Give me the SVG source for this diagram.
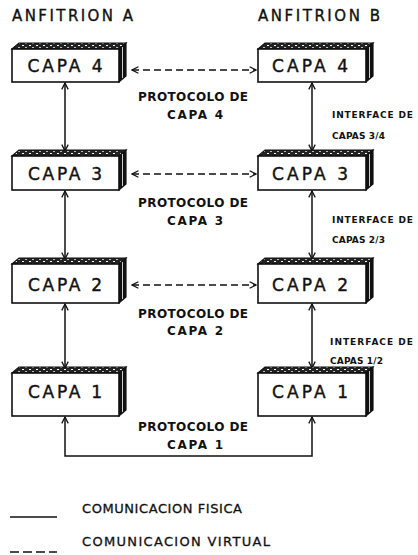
<svg xmlns="http://www.w3.org/2000/svg" width="418" height="555" viewBox="0 0 418 555">
<style>
text{font-family:"DejaVu Sans","Liberation Sans",sans-serif;fill:#111;}
.hdr{font-size:15px;stroke:#111;stroke-width:0.35;}
.lbl{font-size:17px;text-anchor:middle;stroke:#111;stroke-width:0.4;}
.pro{font-size:12px;font-weight:bold;text-anchor:middle;}
.itf{font-size:9px;font-weight:bold;}
.leg{font-size:13px;stroke:#111;stroke-width:0.3;}
.front{fill:#fff;stroke:#111;stroke-width:1.6;}
.top{fill:url(#speck);stroke:#111;stroke-width:1.2;}
.side{fill:#111;stroke:#111;stroke-width:1.2;}
.sl{stroke:#fff;stroke-width:0.8;}
.phys{fill:none;stroke:#111;stroke-width:1.5;}
.virt{fill:none;stroke:#111;stroke-width:1.5;stroke-dasharray:7 4;}
</style>
<defs>
<pattern id="speck" width="7" height="4" patternUnits="userSpaceOnUse">
<rect width="7" height="4" fill="#222"/>
<rect x="1" y="1" width="2" height="1" fill="#fff"/>
<rect x="4" y="3" width="2" height="1" fill="#bbb"/>
</pattern>
<marker id="ah" viewBox="0 0 10 10" refX="9" refY="5" markerWidth="8" markerHeight="8" markerUnits="userSpaceOnUse" orient="auto-start-reverse">
<path d="M1,1 L9,5 L1,9" fill="none" stroke="#111" stroke-width="1.6"/>
</marker>
</defs>

<text class="hdr" x="12" y="21" textLength="121">ANFITRION A</text>
<text class="hdr" x="258" y="21" textLength="122">ANFITRION B</text>

<g id="connectors">
<line class="virt" x1="132" y1="70" x2="256" y2="70" marker-start="url(#ah)" marker-end="url(#ah)"/>
<line class="virt" x1="132" y1="174" x2="256" y2="174" marker-start="url(#ah)" marker-end="url(#ah)"/>
<line class="virt" x1="132" y1="285" x2="256" y2="285" marker-start="url(#ah)" marker-end="url(#ah)"/>
<line class="phys" x1="65" y1="83" x2="65" y2="151" marker-start="url(#ah)" marker-end="url(#ah)"/>
<line class="phys" x1="65" y1="191" x2="65" y2="259" marker-start="url(#ah)" marker-end="url(#ah)"/>
<line class="phys" x1="65" y1="304" x2="65" y2="368" marker-start="url(#ah)" marker-end="url(#ah)"/>
<line class="phys" x1="312" y1="83" x2="312" y2="151" marker-start="url(#ah)" marker-end="url(#ah)"/>
<line class="phys" x1="312" y1="191" x2="312" y2="259" marker-start="url(#ah)" marker-end="url(#ah)"/>
<line class="phys" x1="312" y1="304" x2="312" y2="368" marker-start="url(#ah)" marker-end="url(#ah)"/>
<path class="phys" d="M65,417 V456 H312 V417" marker-start="url(#ah)" marker-end="url(#ah)"/>
</g>

<g id="a4">
<polygon class="top" points="12,49 119,49 126,43 19,43"/>
<polygon class="side" points="119,49 126,43 126,76 119,82"/>
<line class="sl" x1="122.5" y1="47" x2="122.5" y2="78"/>
<rect class="front" x="12" y="49" width="107" height="33"/>
<text class="lbl" x="65" y="72" textLength="75">CAPA 4</text>
</g>
<g id="b4">
<polygon class="top" points="258,49 366,49 373,43 265,43"/>
<polygon class="side" points="366,49 373,43 373,76 366,82"/>
<line class="sl" x1="369.5" y1="47" x2="369.5" y2="78"/>
<rect class="front" x="258" y="49" width="108" height="33"/>
<text class="lbl" x="310" y="72" textLength="76">CAPA 4</text>
</g>
<g id="a3">
<polygon class="top" points="12,156 119,156 126,150 19,150"/>
<polygon class="side" points="119,156 126,150 126,184 119,190"/>
<line class="sl" x1="122.5" y1="154" x2="122.5" y2="186"/>
<rect class="front" x="12" y="156" width="107" height="34"/>
<text class="lbl" x="65" y="180" textLength="74">CAPA 3</text>
</g>
<g id="b3">
<polygon class="top" points="258,156 366,156 373,150 265,150"/>
<polygon class="side" points="366,156 373,150 373,184 366,190"/>
<line class="sl" x1="369.5" y1="154" x2="369.5" y2="186"/>
<rect class="front" x="258" y="156" width="108" height="34"/>
<text class="lbl" x="310" y="180" textLength="76">CAPA 3</text>
</g>
<g id="a2">
<polygon class="top" points="12,264 119,264 126,258 19,258"/>
<polygon class="side" points="119,264 126,258 126,297 119,303"/>
<line class="sl" x1="122.5" y1="262" x2="122.5" y2="299"/>
<rect class="front" x="12" y="264" width="107" height="39"/>
<text class="lbl" x="65" y="291" textLength="74">CAPA 2</text>
</g>
<g id="b2">
<polygon class="top" points="258,264 366,264 373,258 265,258"/>
<polygon class="side" points="366,264 373,258 373,297 366,303"/>
<line class="sl" x1="369.5" y1="262" x2="369.5" y2="299"/>
<rect class="front" x="258" y="264" width="108" height="39"/>
<text class="lbl" x="310" y="291" textLength="76">CAPA 2</text>
</g>
<g id="a1">
<polygon class="top" points="12,373 119,373 126,367 19,367"/>
<polygon class="side" points="119,373 126,367 126,410 119,416"/>
<line class="sl" x1="122.5" y1="371" x2="122.5" y2="412"/>
<rect class="front" x="12" y="373" width="107" height="43"/>
<text class="lbl" x="65" y="398" textLength="74">CAPA 1</text>
</g>
<g id="b1">
<polygon class="top" points="258,373 366,373 373,367 265,367"/>
<polygon class="side" points="366,373 373,367 373,410 366,416"/>
<line class="sl" x1="369.5" y1="371" x2="369.5" y2="412"/>
<rect class="front" x="258" y="373" width="108" height="43"/>
<text class="lbl" x="310" y="398" textLength="76">CAPA 1</text>
</g>

<text class="pro" x="193" y="101" textLength="110">PROTOCOLO DE</text>
<text class="pro" x="195" y="119" textLength="56">CAPA 4</text>
<text class="pro" x="193" y="207" textLength="110">PROTOCOLO DE</text>
<text class="pro" x="195" y="225" textLength="56">CAPA 3</text>
<text class="pro" x="193" y="318" textLength="110">PROTOCOLO DE</text>
<text class="pro" x="195" y="335" textLength="56">CAPA 2</text>
<text class="pro" x="193" y="431" textLength="110">PROTOCOLO DE</text>
<text class="pro" x="195" y="449" textLength="56">CAPA 1</text>

<text class="itf" x="332" y="118" textLength="81">INTERFACE DE</text>
<text class="itf" x="332" y="139" textLength="53">CAPAS 3/4</text>
<text class="itf" x="332" y="223" textLength="81">INTERFACE DE</text>
<text class="itf" x="332" y="243" textLength="53">CAPAS 2/3</text>
<text class="itf" x="330" y="345" textLength="83">INTERFACE DE</text>
<text class="itf" x="330" y="364" textLength="53">CAPAS 1/2</text>

<g id="legend">
<line class="phys" x1="10" y1="517" x2="57" y2="517"/>
<text class="leg" x="82" y="513" textLength="160">COMUNICACION FISICA</text>
<line class="virt" x1="10" y1="552" x2="57" y2="552" style="stroke-dasharray:9 4"/>
<text class="leg" x="82" y="546" textLength="188">COMUNICACION VIRTUAL</text>
</g>
</svg>
